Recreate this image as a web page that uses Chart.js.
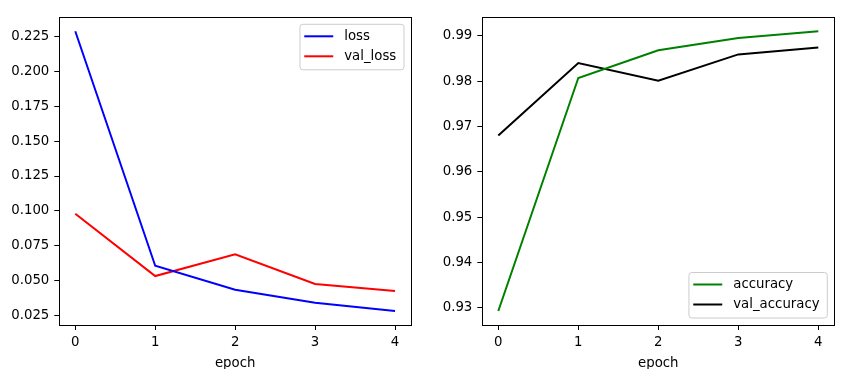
<!DOCTYPE html>
<html>
<head>
<meta charset="utf-8">
<script src="https://cdn.jsdelivr.net/npm/chart.js@4.4.0/dist/chart.umd.min.js"></script>
<style>
  html, body { margin: 0; padding: 0; background: #fff; }
  #wrap { position: relative; width: 842px; height: 369px; }
  .panel { position: absolute; top: 0; width: 421px; height: 369px; }
</style>
</head>
<body>
<div id="wrap">
  <div class="panel" style="left:0"><canvas id="lossChart" width="421" height="369"></canvas></div>
  <div class="panel" style="left:421px"><canvas id="accChart" width="421" height="369"></canvas></div>
</div>
<script>
const epochs = [0, 1, 2, 3, 4];
const loss = [0.2289, 0.0606, 0.0434, 0.0340, 0.0281];
const valLoss = [0.0979, 0.0532, 0.0688, 0.0475, 0.0424];
const accuracy = [0.9293, 0.9807, 0.9868, 0.9895, 0.9910];
const valAccuracy = [0.9680, 0.9840, 0.9801, 0.9859, 0.9874];

const lossTicks = [0.025, 0.050, 0.075, 0.100, 0.125, 0.150, 0.175, 0.200, 0.225];
const accTicks = [0.93, 0.94, 0.95, 0.96, 0.97, 0.98, 0.99];

const FONT = { family: '"DejaVu Sans", sans-serif', size: 13.3 };

// matplotlib style box around the axes + legend box
const mplFrame = {
    id: 'mplFrame',
    afterDraw(chart, args, opts) {
        const { ctx, chartArea: a } = chart;
        ctx.save();
        ctx.strokeStyle = '#000';
        ctx.lineWidth = 1;
        const l = Math.round(a.left) + 0.5, t = Math.round(a.top) + 0.5;
        const r = Math.round(a.right) + 0.5, b = Math.round(a.bottom) + 0.5;
        ctx.strokeRect(l, t, r - l, b - t);

        // legend
        const items = chart.data.datasets;
        ctx.font = `${FONT.size}px ${FONT.family}`;
        const textW = Math.max(...items.map(d => ctx.measureText(d.label).width));
        const w = 44 + textW + 8, h = 45.5;
        const x = a.right - 7 - w;
        const y = opts.loc === 'upper' ? a.top + 7 : a.bottom - 7 - h;
        ctx.beginPath();
        ctx.roundRect(x, y, w, h, 3);
        ctx.fillStyle = 'rgba(255,255,255,0.8)';
        ctx.fill();
        ctx.strokeStyle = '#cccccc';
        ctx.stroke();
        items.forEach((d, i) => {
            const cy = y + 12 + i * 20;
            ctx.beginPath();
            ctx.moveTo(x + 4.3, cy);
            ctx.lineTo(x + 33.3, cy);
            ctx.strokeStyle = d.borderColor;
            ctx.lineWidth = 2;
            ctx.stroke();
            ctx.fillStyle = '#000';
            ctx.textBaseline = 'middle';
            ctx.fillText(d.label, x + 44.3, cy);
        });
        ctx.restore();
    }
};

function paddedRange(arrays) {
    const all = arrays.flat();
    const lo = Math.min(...all), hi = Math.max(...all);
    const m = (hi - lo) * 0.05;
    return [lo - m, hi + m];
}

function makeChart(id, series, yTicks, decimals, loc, yWidth, padRight) {
    const [ymin, ymax] = paddedRange(series.map(s => s.data));
    return new Chart(document.getElementById(id), {
        type: 'line',
        data: {
            datasets: series.map(s => ({
                label: s.label,
                data: s.data.map((v, i) => ({ x: epochs[i], y: v })),
                borderColor: s.color,
                borderWidth: 2,
                pointRadius: 0,
                tension: 0,
                fill: false
            }))
        },
        options: {
            responsive: false,
            animation: false,
            devicePixelRatio: 1,
            layout: { padding: { top: 17.3, right: padRight, bottom: 0, left: 0 } },
            plugins: {
                legend: { display: false },
                tooltip: { enabled: false },
                mplFrame: { loc: loc }
            },
            scales: {
                x: {
                    type: 'linear',
                    min: -0.2,
                    max: 4.2,
                    afterBuildTicks: s => { s.ticks = epochs.map(v => ({ value: v })); },
                    afterFit: s => { s.height = 44; },
                    ticks: { font: FONT, color: '#000', padding: 5, maxRotation: 0, autoSkip: false,
                             callback: v => String(v) },
                    grid: { drawOnChartArea: false, drawTicks: true, tickLength: 5, color: '#000' },
                    border: { display: false },
                    title: { display: true, text: 'epoch', font: { ...FONT, lineHeight: 0.8 }, color: '#000',
                             padding: { top: 0, bottom: 0 } }
                },
                y: {
                    min: ymin,
                    max: ymax,
                    afterBuildTicks: s => { s.ticks = yTicks.map(v => ({ value: v })); },
                    afterFit: s => { s.width = yWidth; },
                    ticks: { font: FONT, color: '#000', padding: 5, autoSkip: false,
                             callback: v => v.toFixed(decimals) },
                    grid: { drawOnChartArea: false, drawTicks: true, tickLength: 5, color: '#000' },
                    border: { display: false }
                }
            }
        },
        plugins: [mplFrame]
    });
}

makeChart('lossChart', [
    { label: 'loss', data: loss, color: '#0000ff' },
    { label: 'val_loss', data: valLoss, color: '#ff0000' }
], lossTicks, 3, 'upper', 59.3, 10);

makeChart('accChart', [
    { label: 'accuracy', data: accuracy, color: '#008000' },
    { label: 'val_accuracy', data: valAccuracy, color: '#000000' }
], accTicks, 2, 'lower', 61.3, 7.7);
</script>
</body>
</html>
